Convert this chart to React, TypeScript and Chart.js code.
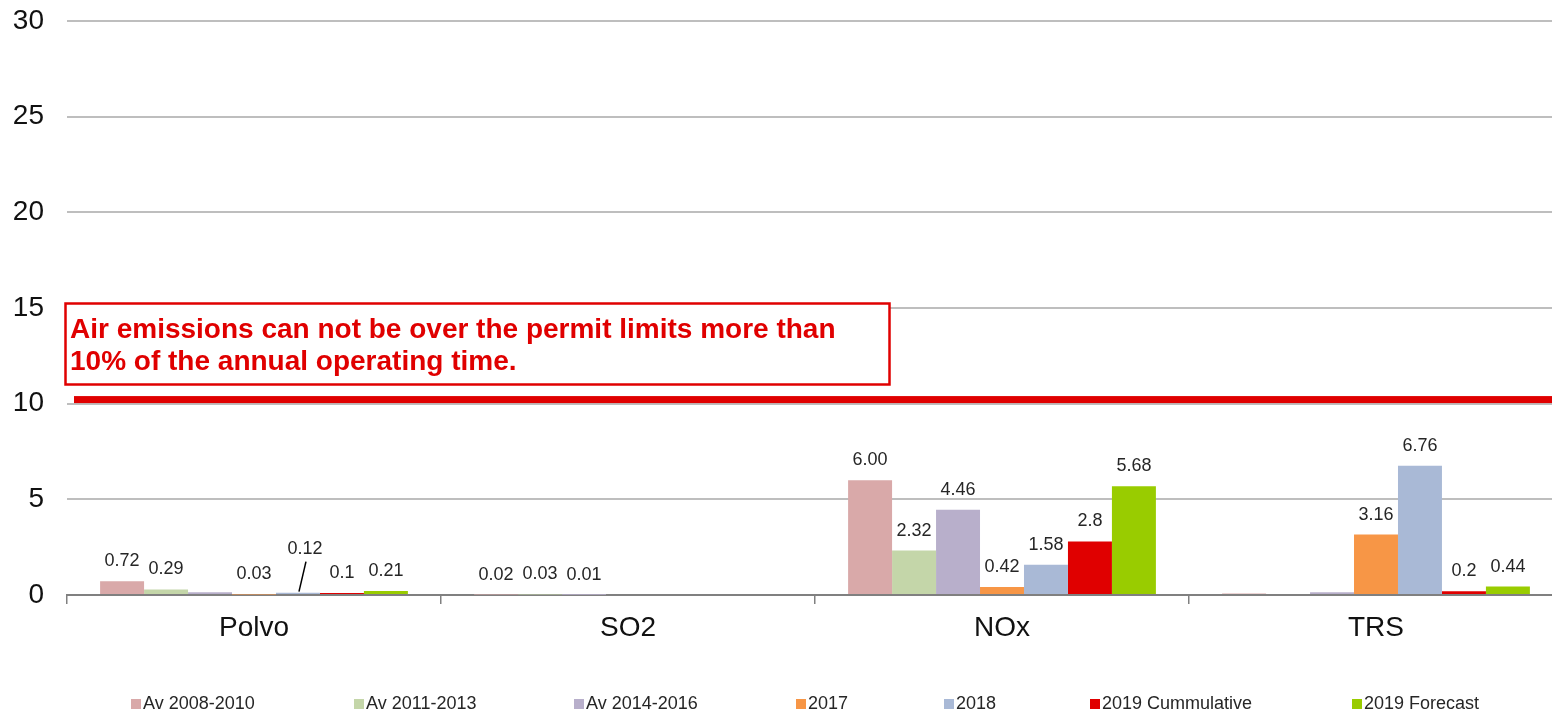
import React, { useEffect, useRef } from 'react';
import { Chart, registerables } from 'chart.js';

Chart.register(...registerables);

// ---------- data ----------
const CATEGORIES = ['Polvo', 'SO2', 'NOx', 'TRS'];
const SERIES_NAMES = ['Av 2008-2010', 'Av 2011-2013', 'Av 2014-2016', '2017', '2018', '2019 Cummulative', '2019 Forecast'];

const AV_2008_2010 = [0.72, 0.02, 6.0, 0.08];
const AV_2011_2013 = [0.29, 0.03, 2.32, null];
const AV_2014_2016 = [0.15, 0.01, 4.46, 0.15];
const Y_2017 = [0.03, null, 0.42, 3.16];
const Y_2018 = [0.12, null, 1.58, 6.76];
const Y_2019_CUM = [0.1, null, 2.8, 0.2];
const Y_2019_FC = [0.21, null, 5.68, 0.44];

const LBL_2008_2010 = ['0.72', '0.02', '6.00', null];
const LBL_2011_2013 = ['0.29', '0.03', '2.32', null];
const LBL_2014_2016 = [null, '0.01', '4.46', null];
const LBL_2017 = ['0.03', null, '0.42', '3.16'];
const LBL_2018 = ['0.12', null, '1.58', '6.76'];
const LBL_2019_CUM = ['0.1', null, '2.8', '0.2'];
const LBL_2019_FC = ['0.21', null, '5.68', '0.44'];

const Y_MIN = 0;
const Y_MAX = 30;
const Y_STEP = 5;
const PERMIT_LIMIT = 10.24;
const NOTE_LINES = ['Air emissions can not be over the permit limits more than', '10% of the annual operating time.'];

// ---------- styles ----------
const COLORS = ['#D9A9A9', '#C4D6A9', '#B8AFCB', '#F79646', '#A9B9D6', '#E00000', '#99CC00'];
const FONT = '"Liberation Sans", Arial, sans-serif';
const SERIES_VALUES = [AV_2008_2010, AV_2011_2013, AV_2014_2016, Y_2017, Y_2018, Y_2019_CUM, Y_2019_FC];
const SERIES_LABELS = [LBL_2008_2010, LBL_2011_2013, LBL_2014_2016, LBL_2017, LBL_2018, LBL_2019_CUM, LBL_2019_FC];
const LEGEND_X = [131, 354, 574, 796, 944, 1090, 1352];

const dataLabelPlugin = {
  id: 'dataLabels',
  afterDatasetsDraw(chart: any) {
    const ctx = chart.ctx;
    ctx.save();
    ctx.font = `18px ${FONT}`;
    ctx.fillStyle = '#262626';
    ctx.textAlign = 'center';
    ctx.textBaseline = 'middle';
    chart.data.datasets.forEach((_ds: any, di: number) => {
      const meta = chart.getDatasetMeta(di);
      const labels = SERIES_LABELS[di];
      meta.data.forEach((bar: any, i: number) => {
        const txt = labels[i];
        if (txt == null || !isFinite(bar.y)) return;
        if (di === 4 && i === 0) {
          // moved label with leader line
          ctx.fillText(txt, bar.x + 7, bar.y - 44);
          ctx.beginPath();
          ctx.strokeStyle = '#000';
          ctx.lineWidth = 1.5;
          ctx.moveTo(bar.x + 8, bar.y - 31);
          ctx.lineTo(bar.x + 1, bar.y - 1);
          ctx.stroke();
          return;
        }
        ctx.fillText(txt, bar.x, bar.y - 20);
      });
    });
    ctx.restore();
  },
};

const overlayPlugin = {
  id: 'overlay',
  afterDraw(chart: any) {
    const ctx = chart.ctx;
    const y = chart.scales.y.getPixelForValue(PERMIT_LIMIT);
    ctx.save();
    // permit limit line
    ctx.fillStyle = '#E00000';
    ctx.fillRect(74, y - 3, chart.chartArea.right - 74, 7);
    // note box
    ctx.fillStyle = '#FFFFFF';
    ctx.fillRect(65, 303, 825, 82);
    ctx.strokeStyle = '#E00000';
    ctx.lineWidth = 2.5;
    ctx.strokeRect(65.5, 303.5, 824, 81);
    ctx.fillStyle = '#E00000';
    ctx.font = `bold 28px ${FONT}`;
    ctx.textAlign = 'left';
    ctx.textBaseline = 'alphabetic';
    ctx.fillText(NOTE_LINES[0], 70, 338);
    ctx.fillText(NOTE_LINES[1], 70, 370);
    // legend
    ctx.font = `18px ${FONT}`;
    ctx.textBaseline = 'middle';
    SERIES_NAMES.forEach((name, i) => {
      const x = LEGEND_X[i];
      ctx.fillStyle = COLORS[i];
      ctx.fillRect(x, 699, 10, 10);
      ctx.fillStyle = '#262626';
      ctx.fillText(name, x + 12, 704);
    });
    ctx.restore();
  },
};

export default function App() {
  const canvasRef = useRef<HTMLCanvasElement | null>(null);

  useEffect(() => {
    document.body.style.margin = '0';
    document.body.style.overflow = 'hidden';
    const canvas = canvasRef.current;
    if (!canvas) return;
    const chart = new Chart(canvas, {
      type: 'bar',
      data: {
        labels: CATEGORIES,
        datasets: SERIES_NAMES.map((name, i) => ({
          label: name,
          data: SERIES_VALUES[i] as any,
          backgroundColor: COLORS[i],
          borderWidth: 0,
          categoryPercentage: 0.823,
          barPercentage: 1,
        })),
      },
      options: {
        animation: false,
        responsive: false,
        devicePixelRatio: 1,
        layout: { padding: { top: 21, left: 0, right: 0, bottom: 0 } },
        plugins: {
          legend: { display: false },
          tooltip: { enabled: false },
        },
        scales: {
          x: {
            offset: true,
            grid: {
              display: true,
              offset: true,
              drawOnChartArea: false,
              drawTicks: true,
              tickLength: 9,
              color: '#808080',
              lineWidth: 1.5,
            },
            border: { display: true, color: '#808080', width: 2 },
            ticks: {
              font: { family: FONT, size: 28 },
              color: '#111111',
              padding: 7,
              maxRotation: 0,
            },
            afterFit(scale: any) {
              scale.height = 118;
            },
          },
          y: {
            min: Y_MIN,
            max: Y_MAX,
            grid: { color: '#BEBEBE', lineWidth: 2, drawTicks: false },
            border: { display: false },
            ticks: {
              stepSize: Y_STEP,
              font: { family: FONT, size: 28 },
              color: '#111111',
              padding: 23,
            },
            afterFit(scale: any) {
              scale.width = 67;
              scale.paddingTop = 0;
              scale.paddingBottom = 0;
            },
          },
        },
      },
      plugins: [dataLabelPlugin, overlayPlugin],
    });
    return () => chart.destroy();
  }, []);

  return (
    <div style={{ width: 1552, height: 713, overflow: 'hidden', background: '#fff' }}>
      <canvas ref={canvasRef} width={1563} height={713} style={{ display: 'block' }} />
    </div>
  );
}
